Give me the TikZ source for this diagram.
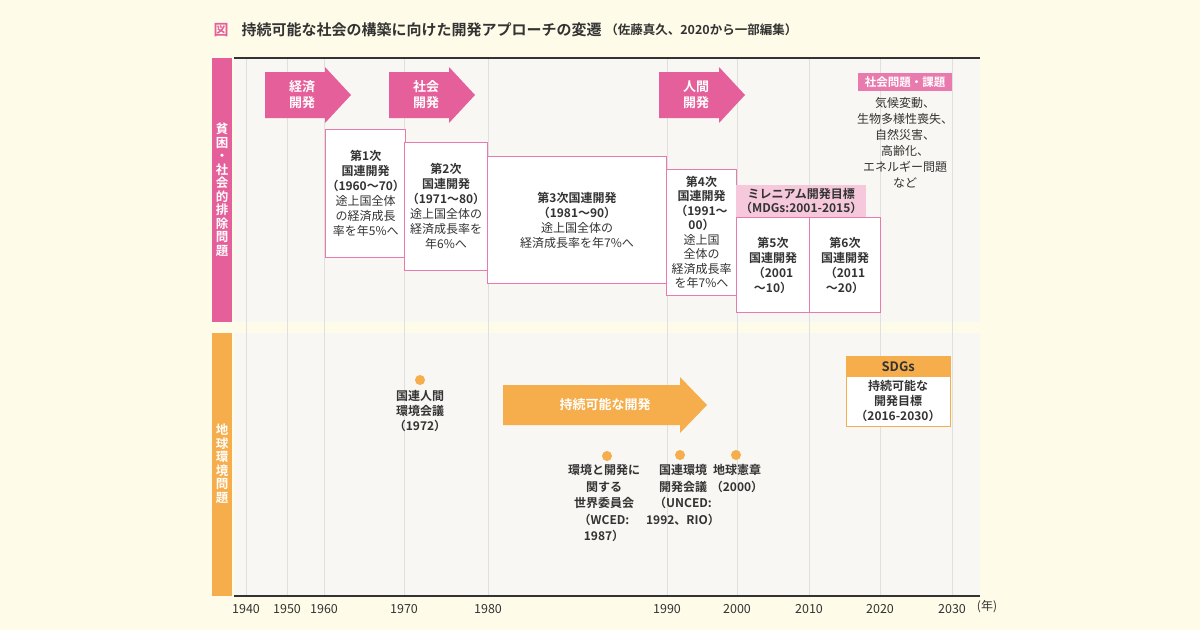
\documentclass[tikz,border=0pt]{standalone}
\usepackage{fontspec}
\setmainfont{Noto Sans CJK JP}
\newfontfamily\jpb{Noto Sans CJK JP Bold}
\begin{document}
\begin{tikzpicture}[x=1pt,y=-1pt,
  pk/.style={draw=pkline,line width=1pt,fill=white,align=center,text=txt,font=\fontsize{12}{15}\selectfont},
  lbl/.style={align=center,font=\fontsize{12}{15}\selectfont,text=txt},
  dot/.style={circle,fill=orc,inner sep=0pt,minimum size=10pt},
  arr/.style={fill=pkm,draw=none}]
\definecolor{bg}{HTML}{FEFCE8}
\definecolor{pan}{HTML}{F8F7F3}
\definecolor{pkm}{HTML}{E5609A}
\definecolor{pkline}{HTML}{E97AAD}
\definecolor{pkl}{HTML}{F6C8DC}
\definecolor{orc}{HTML}{F5AE4B}
\definecolor{txt}{HTML}{333333}
\useasboundingbox (0,0) rectangle (1200,630);
\fill[bg] (0,0) rectangle (1200,630);
\fill[pan] (234,58) rectangle (980,322);
\fill[pan] (234,333) rectangle (980,596);
\foreach \x in {246,287,324,404,488,667,737,809,880,952}
  \draw[gray!25,line width=0.8pt] (\x,58) -- (\x,596);
\draw[txt,line width=1.5pt] (234,58) -- (980,58);
\draw[txt,line width=1.5pt] (234,596) -- (980,596);
\fill[pkm] (212,58) rectangle (232,322);
\fill[orc] (212,333) rectangle (232,596);
\node[text=white,align=center,font=\jpb\fontsize{12.5}{13.5}\selectfont] (v1) at (222,190) {貧\\困\\・\\社\\会\\的\\排\\除\\問\\題};
\node[text=white,align=center,font=\jpb\fontsize{12.5}{13.5}\selectfont] (v2) at (222,464) {地\\球\\環\\境\\問\\題};
% title
\node[anchor=west,text=pkm,font=\jpb\fontsize{15}{17}\selectfont] (t0) at (210,30) {図};
\node[anchor=west,text=txt,font=\jpb\fontsize{15}{17}\selectfont] (t1) at (238,30) {持続可能な社会の構築に向けた開発アプローチの変遷};
\node[anchor=west,text=txt,inner xsep=0pt,font=\jpb\fontsize{12.5}{15}\selectfont] (t2) at (t1.east) {（佐藤真久、2020から一部編集）};
% arrows
\foreach \a/\n/\t in {265/a1/経済\\開発,389/a2/社会\\開発,659/a3/人間\\開発}{
  \fill[pkm] (\a,72) -- (\a+60,72) -- (\a+60,67) -- (\a+86,95) -- (\a+60,123) -- (\a+60,118) -- (\a,118) -- cycle;
  \node[text=white,align=center,font=\jpb\fontsize{13}{16}\selectfont] (\n) at (\a+37,95) {\t};
}
% boxes
\node[pk,minimum width=78pt,minimum height=128pt,anchor=north west,inner xsep=1pt] (b1) at (325,129) {{\jpb 第1次}\\{\jpb 国連開発}\\{\jpb （1960〜70）}\\途上国全体\\の経済成長\\率を年5\%へ};
\node[pk,minimum width=83pt,minimum height=128pt,anchor=north west,inner xsep=1pt] (b2) at (404,142) {{\jpb 第2次}\\{\jpb 国連開発}\\{\jpb （1971〜80）}\\途上国全体の\\経済成長率を\\年6\%へ};
\node[pk,minimum width=179pt,minimum height=127pt,anchor=north west] (b3) at (487,156) {{\jpb 第3次国連開発}\\{\jpb （1981〜90）}\\途上国全体の\\経済成長率を年7\%へ};
\node[pk,minimum width=70pt,minimum height=126pt,anchor=north west,inner xsep=1pt,font=\fontsize{12}{14.5}\selectfont] (b4) at (666,169) {{\jpb 第4次}\\{\jpb 国連開発}\\{\jpb （1991〜}\\{\jpb 00）}\\途上国\\全体の\\経済成長率\\を年7\%へ};
\node[fill=pkl,minimum width=130pt,minimum height=32pt,anchor=north west,align=center,inner sep=1pt,font=\jpb\fontsize{12}{14.5}\selectfont,text=txt] (mdg) at (736,185) {ミレニアム開発目標\\（MDGs:2001-2015）};
\node[pk,minimum width=73pt,minimum height=95pt,anchor=north west,font=\jpb\fontsize{12}{15}\selectfont] (b5) at (736,217) {第5次\\国連開発\\（2001\\〜10）};
\node[pk,minimum width=71pt,minimum height=95pt,anchor=north west,font=\jpb\fontsize{12}{15}\selectfont] (b6) at (809,217) {第6次\\国連開発\\（2011\\〜20）};
\node[fill=pkline,text=white,minimum width=94pt,minimum height=18pt,anchor=north west,inner sep=1pt,font=\jpb\fontsize{11.5}{12}\selectfont] (sq) at (858,73) {社会問題・課題};
\node[lbl,anchor=north,font=\fontsize{12}{16}\selectfont] (sqt) at (905,94) {気候変動、\\生物多様性喪失、\\自然災害、\\高齢化、\\エネルギー問題\\など};
% bottom
\fill[orc] (503,385) -- (680,385) -- (680,377) -- (707,405) -- (680,433) -- (680,425) -- (503,425) -- cycle;
\node[text=white,font=\jpb\fontsize{13}{15}\selectfont] (sd) at (605,405) {持続可能な開発};
\node[dot] (d1) at (420,380) {};
\node[lbl,anchor=north,font=\jpb\fontsize{12}{15}\selectfont] (d1t) at (420,387) {国連人間\\環境会議\\（1972）};
\node[dot] (d2) at (607,456) {};
\node[lbl,anchor=north,font=\jpb\fontsize{12}{16.5}\selectfont] (d2t) at (604,461) {環境と開発に\\関する\\世界委員会\\（WCED:\\1987）};
\node[dot] (d3) at (680,455) {};
\node[lbl,anchor=north,font=\jpb\fontsize{12}{16.5}\selectfont] (d3t) at (683,461) {国連環境\\開発会議\\（UNCED:\\1992、RIO）};
\node[dot] (d4) at (736,455) {};
\node[lbl,anchor=north,font=\jpb\fontsize{12}{16.5}\selectfont] (d4t) at (737,461) {地球憲章\\（2000）};
\node[draw=orc,line width=1pt,fill=white,minimum width=104pt,minimum height=70pt,anchor=north west] (sg) at (846,356) {};
\node[fill=orc,minimum width=105pt,minimum height=21pt,anchor=north west,inner sep=0pt,font=\jpb\fontsize{13}{15}\selectfont,text=txt] (sgh) at (845.5,355.5) {SDGs};
\node[lbl,font=\jpb\fontsize{12}{15}\selectfont] (sgt) at (898,401) {持続可能な\\開発目標\\（2016-2030）};
% axis labels
\foreach \x/\y in {246/1940,287/1950,324/1960,404/1970,488/1980,667/1990,737/2000,809/2010,880/2020,952/2030}
  \node[text=txt,font=\fontsize{12.5}{14}\selectfont] (y\y) at (\x,609) {\y};
\node[text=txt,font=\fontsize{12}{14}\selectfont] (nen) at (987,607) {(年)};
\end{tikzpicture}
\end{document}
